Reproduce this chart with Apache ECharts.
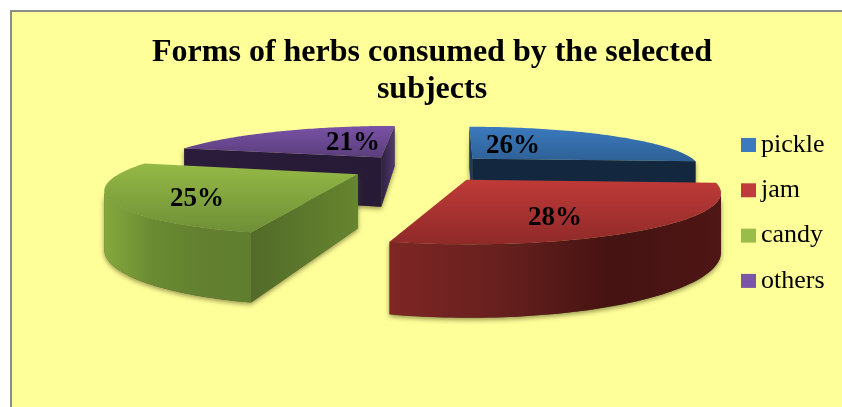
<!DOCTYPE html>
<html>
<head>
<meta charset="utf-8">
<style>html,body{margin:0;padding:0;background:#fff}#chart{width:842px;height:407px}</style>
<script src="https://cdn.jsdelivr.net/npm/echarts@6/dist/echarts.min.js"></script>
</head>
<body>
<div id="chart"></div>
<script>
// Share of each form of herb, in percent, clockwise from twelve o'clock
const categories = ['pickle', 'jam', 'candy', 'others'];
const shares = [26, 28, 25, 21];

// Face colours of each slice
const topLight = ['#3B7ABE', '#BF3A37', '#95B946', '#7A52A6'];
const topDark  = ['#2E6095', '#8F2A29', '#6F8F37', '#5A3E7C'];
const outerWallStops = [
  ['#24466E', '#1A3452'],
  ['#7E2624', '#66201E', '#451312', '#4E1615'],
  ['#86A83E', '#6A8A32', '#628030', '#5F7E2E'],
  ['#3A2852', '#2B1D3C']
];
const startWallStops = [
  ['#1B3C62', '#1B3C62'],
  ['#5A1B1A', '#4A1514'],
  ['#526B29', '#66852F'],
  ['#2A1C3A', '#271A36']
];
const endWallStops = [
  ['#13273F', '#13273F'],
  ['#5A1B1A', '#4A1514'],
  ['#66852F', '#66852F'],
  ['#2F2040', '#513A6E']
];
const legendFill = ['#3B7ABE', '#C03B3C', '#9ABD4A', '#7A55A8'];

// Perspective model of the exploded pie
const view = { cx: 421, cy: 167.5, fx: 231, fy: 43, skew: 8, persp: 0.23, depth: 52 };
const explodeBy = [0.31, 0.33, 0.30, 0.31];
// Anchors of the percentage labels inside each slice
const labelAnchors = [[513, 146], [555, 218], [197, 199], [353, 143]];
// Back-to-front painting order
const paintOrder = [3, 0, 2, 1];

const total = shares.reduce((a, b) => a + b, 0);

function project(u, v, d) {
  const w = 1 + view.persp * v;
  return [
    view.cx + (view.fx * u + view.skew * v) / w,
    view.cy + (-view.fy * v + view.depth * d) / w
  ];
}

function vGrad(c0, c1) {
  return { type: 'linear', x: 0, y: 0, x2: 0, y2: 1, colorStops: [{ offset: 0, color: c0 }, { offset: 1, color: c1 }] };
}
function hGrad(stops) {
  return {
    type: 'linear', x: 0, y: 0, x2: 1, y2: 0,
    colorStops: stops.map((c, i) => ({ offset: i / (stops.length - 1), color: c }))
  };
}

function sliceElements(idx, value) {
  const before = shares.slice(0, idx).reduce((a, b) => a + b, 0);
  const a0 = before / total * 2 * Math.PI;
  const a1 = (before + value) / total * 2 * Math.PI;
  const mid = (a0 + a1) / 2;
  const ox = explodeBy[idx] * Math.sin(mid);
  const oy = explodeBy[idx] * Math.cos(mid);

  const STEPS = 80;
  const arcTop = [], arcBottom = [];
  for (let i = 0; i <= STEPS; i++) {
    const t = a0 + (a1 - a0) * i / STEPS;
    const u = ox + Math.sin(t), v = oy + Math.cos(t);
    arcTop.push(project(u, v, 0));
    arcBottom.push(project(u, v, 1));
  }
  const apexTop = project(ox, oy, 0);
  const apexBottom = project(ox, oy, 1);

  // A cut face shows only when it lies on the far side of its edge from the slice top
  const midTop = arcTop[STEPS >> 1];
  function cutFace(edgeTop, edgeBottom) {
    const ex = edgeTop[0] - apexTop[0], ey = edgeTop[1] - apexTop[1];
    const crossDown = ex;
    const crossMid = ex * (midTop[1] - apexTop[1]) - ey * (midTop[0] - apexTop[0]);
    if (crossDown * crossMid >= 0) return null;
    return [apexTop, edgeTop, edgeBottom, apexBottom];
  }

  const walls = [];
  // The rim faces the viewer only along the run where it travels leftwards on screen
  let first = -1, last = -1;
  for (let i = 0; i < STEPS; i++) {
    if (arcTop[i + 1][0] < arcTop[i][0]) {
      if (first < 0) first = i;
      last = i + 1;
    }
  }
  if (first >= 0) {
    walls.push({
      pts: arcTop.slice(first, last + 1).concat(arcBottom.slice(first, last + 1).reverse()),
      fill: hGrad(outerWallStops[idx])
    });
  }
  const startFace = cutFace(arcTop[0], arcBottom[0]);
  if (startFace) walls.push({ pts: startFace, fill: hGrad(startWallStops[idx]) });
  const endFace = cutFace(arcTop[STEPS], arcBottom[STEPS]);
  if (endFace) walls.push({ pts: endFace, fill: hGrad(endWallStops[idx]) });

  const children = [];
  walls.forEach(w => children.push({
    type: 'polygon', shape: { points: w.pts },
    style: { fill: '#5b5b2a', shadowBlur: 5, shadowColor: 'rgba(70,70,20,0.6)', shadowOffsetY: 2 }
  }));
  walls.forEach(w => children.push({
    type: 'polygon', shape: { points: w.pts }, style: { fill: w.fill }
  }));
  children.push({
    type: 'polygon', shape: { points: [apexTop].concat(arcTop) },
    style: { fill: vGrad(topLight[idx], topDark[idx]) }
  });
  children.push({
    type: 'text', z2: 10,
    style: {
      text: value + '%', x: labelAnchors[idx][0], y: labelAnchors[idx][1],
      align: 'center', verticalAlign: 'middle',
      font: 'bold 27px "Liberation Serif"', fill: '#000'
    }
  });
  return { type: 'group', children };
}

const series = categories.map((name, idx) => ({
  type: 'custom',
  name,
  coordinateSystem: 'none',
  z: 2 + paintOrder.indexOf(idx),
  itemStyle: { color: legendFill[idx] },
  data: [[shares[idx]]],
  renderItem: (params, api) => sliceElements(idx, api.value(0))
}));

const chart = echarts.init(document.getElementById('chart'), null, { renderer: 'canvas' });
chart.setOption({
  animation: false,
  backgroundColor: '#ffffff',
  title: {
    text: 'Forms of herbs consumed by the selected\nsubjects',
    left: 427, top: 29, textAlign: 'center',
    textStyle: { fontFamily: '"Liberation Serif"', fontWeight: 'bold', fontSize: 32, lineHeight: 37, color: '#000' }
  },
  legend: {
    orient: 'vertical', left: 736, top: 127,
    data: categories, icon: 'rect',
    itemWidth: 15, itemHeight: 14, itemGap: 19.3, selectedMode: false,
    textStyle: { fontFamily: '"Liberation Serif"', fontSize: 26, color: '#000', lineHeight: 26 },
    formatter: n => n
  },
  graphic: [{
    type: 'rect', z: 0, silent: true,
    shape: { x: 11, y: 11, width: 900, height: 500 },
    style: { fill: '#FFFF99', stroke: '#8C8C8C', lineWidth: 2 }
  }],
  series
});
</script>
</body>
</html>
